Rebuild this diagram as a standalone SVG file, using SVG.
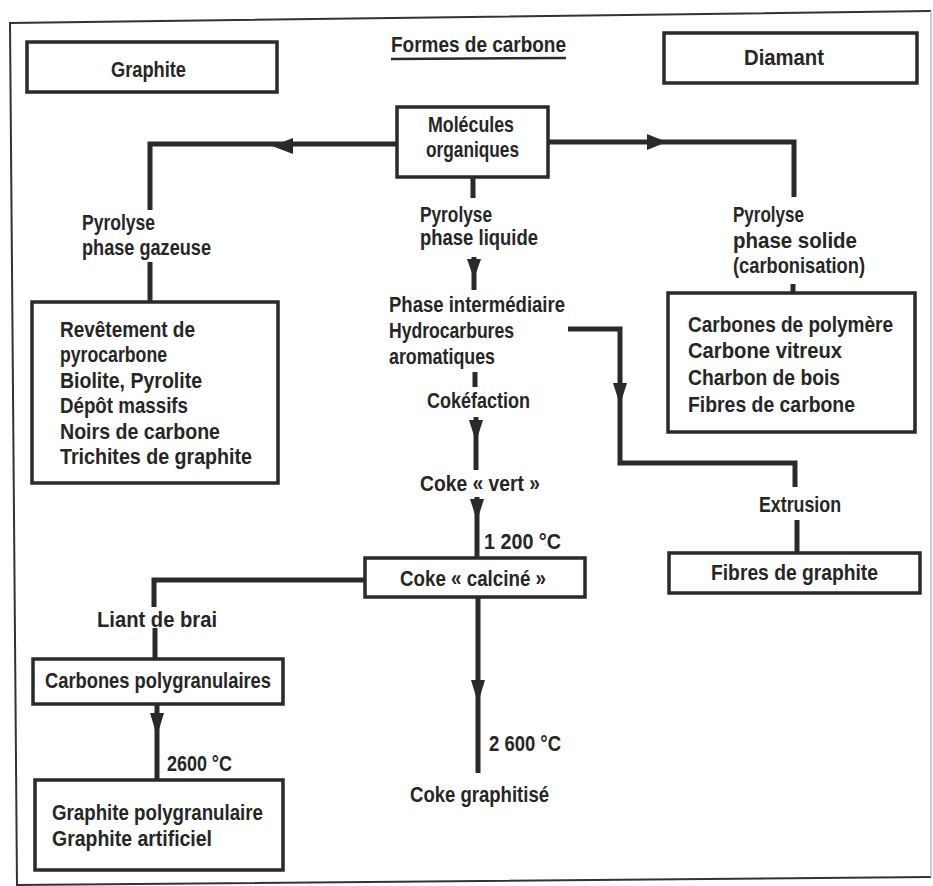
<svg xmlns="http://www.w3.org/2000/svg" width="933" height="886" viewBox="0 0 933 886">
<style>
text{font-family:"Liberation Sans",Arial,sans-serif;font-weight:bold;font-size:22px;fill:#262626}
.box{fill:#fff;stroke:#2a2a2a;stroke-width:3.5}
.ln{fill:none;stroke:#2a2a2a;stroke-width:5;stroke-linejoin:miter}
.ah{fill:#2a2a2a}
.frame{fill:none;stroke:#333;stroke-width:2}
</style>
<rect width="933" height="886" fill="#fff"/>
<g id="frame">
<polyline class="frame" points="931,11 10,23 17,885 931,877"/>
<line x1="931" y1="11" x2="931" y2="877" stroke="#bbb" stroke-width="1.5"/>
</g>

<g id="title">
<text x="391" y="52" textLength="175" lengthAdjust="spacingAndGlyphs">Formes de carbone</text>
<line x1="391" y1="59" x2="566" y2="58" stroke="#2a2a2a" stroke-width="2.5"/>
</g>

<g id="connectors">
<path class="ln" d="M397,144 H150 V210"/>
<path class="ln" d="M150,262 V302"/>
<polygon class="ah" points="272,146 293,138 293,154"/>
<path class="ln" d="M548,142 H794 V197"/>
<path class="ln" d="M793,284 V294"/>
<polygon class="ah" points="667,142 647,134 647,150"/>
<path class="ln" d="M473,177 V198"/>
<path class="ln" d="M474,257 V290"/>
<polygon class="ah" points="467,259 481,259 474,279"/>
<path class="ln" d="M475,372 V387"/>
<path class="ln" d="M476,417 V470"/>
<polygon class="ah" points="469,420 483,420 476,442"/>
<path class="ln" d="M568,329 H620 V463 H795 V487"/>
<polygon class="ah" points="613,383 627,383 620,405"/>
<path class="ln" d="M797,520 V553"/>
<path class="ln" d="M477,497 V558"/>
<polygon class="ah" points="470,499 484,499 477,521"/>
<path class="ln" d="M478,597 V773"/>
<polygon class="ah" points="471,680 485,680 478,703"/>
<path class="ln" d="M365,580 H154 V607"/>
<path class="ln" d="M155,628 V659"/>
<path class="ln" d="M157,704 V780"/>
<polygon class="ah" points="150,713 164,713 157,736"/>
</g>

<g id="graphite">
<rect class="box" x="27" y="42" width="250" height="50"/>
<text x="111" y="77" textLength="75" lengthAdjust="spacingAndGlyphs">Graphite</text>
</g>

<g id="diamant">
<rect class="box" x="664" y="33" width="253" height="50"/>
<text x="744" y="65" textLength="80" lengthAdjust="spacingAndGlyphs">Diamant</text>
</g>

<g id="molecules">
<rect class="box" x="397" y="107" width="151" height="70"/>
<text x="428" y="132" textLength="86" lengthAdjust="spacingAndGlyphs">Molécules</text>
<text x="426" y="157" textLength="93" lengthAdjust="spacingAndGlyphs">organiques</text>
</g>

<g id="label-gazeuse">
<text x="82" y="230" textLength="73" lengthAdjust="spacingAndGlyphs">Pyrolyse</text>
<text x="82" y="255" textLength="129" lengthAdjust="spacingAndGlyphs">phase gazeuse</text>
</g>

<g id="pyrocarbone">
<rect class="box" x="32" y="302" width="246" height="181"/>
<text x="60" y="337" textLength="135" lengthAdjust="spacingAndGlyphs">Revêtement de</text>
<text x="60" y="362" textLength="107" lengthAdjust="spacingAndGlyphs">pyrocarbone</text>
<text x="60" y="388" textLength="142" lengthAdjust="spacingAndGlyphs">Biolite, Pyrolite</text>
<text x="60" y="413" textLength="128" lengthAdjust="spacingAndGlyphs">Dépôt massifs</text>
<text x="60" y="439" textLength="160" lengthAdjust="spacingAndGlyphs">Noirs de carbone</text>
<text x="60" y="464" textLength="192" lengthAdjust="spacingAndGlyphs">Trichites de graphite</text>
</g>

<g id="label-liquide">
<text x="420" y="222" textLength="72" lengthAdjust="spacingAndGlyphs">Pyrolyse</text>
<text x="420" y="245" textLength="118" lengthAdjust="spacingAndGlyphs">phase liquide</text>
</g>

<g id="intermediaire">
<text x="389" y="312" textLength="176" lengthAdjust="spacingAndGlyphs">Phase intermédiaire</text>
<text x="389" y="338" textLength="125" lengthAdjust="spacingAndGlyphs">Hydrocarbures</text>
<text x="389" y="364" textLength="106" lengthAdjust="spacingAndGlyphs">aromatiques</text>
</g>

<g id="label-cokefaction">
<text x="427" y="408" textLength="103" lengthAdjust="spacingAndGlyphs">Cokéfaction</text>
</g>

<g id="coke-vert">
<text x="420" y="491" textLength="120" lengthAdjust="spacingAndGlyphs">Coke « vert »</text>
</g>

<g id="label-solide">
<text x="733" y="222" textLength="71" lengthAdjust="spacingAndGlyphs">Pyrolyse</text>
<text x="733" y="248" textLength="124" lengthAdjust="spacingAndGlyphs">phase solide</text>
<text x="733" y="273" textLength="132" lengthAdjust="spacingAndGlyphs">(carbonisation)</text>
</g>

<g id="polymere">
<rect class="box" x="668" y="293" width="247" height="139"/>
<text x="688" y="332" textLength="205" lengthAdjust="spacingAndGlyphs">Carbones de polymère</text>
<text x="688" y="358" textLength="154" lengthAdjust="spacingAndGlyphs">Carbone vitreux</text>
<text x="688" y="385" textLength="152" lengthAdjust="spacingAndGlyphs">Charbon de bois</text>
<text x="688" y="412" textLength="167" lengthAdjust="spacingAndGlyphs">Fibres de carbone</text>
</g>

<g id="label-extrusion">
<text x="759" y="512" textLength="82" lengthAdjust="spacingAndGlyphs">Extrusion</text>
</g>

<g id="fibres-graphite">
<rect class="box" x="669" y="553" width="251" height="40"/>
<text x="711" y="580" textLength="167" lengthAdjust="spacingAndGlyphs">Fibres de graphite</text>
</g>

<g id="label-1200">
<text x="484" y="549" textLength="77" lengthAdjust="spacingAndGlyphs">1 200 °C</text>
</g>

<g id="coke-calcine">
<rect class="box" x="365" y="558" width="220" height="39"/>
<text x="400" y="586" textLength="146" lengthAdjust="spacingAndGlyphs">Coke « calciné »</text>
</g>

<g id="label-2600b">
<text x="489" y="751" textLength="72" lengthAdjust="spacingAndGlyphs">2 600 °C</text>
</g>

<g id="coke-graphitise">
<text x="410" y="802" textLength="139" lengthAdjust="spacingAndGlyphs">Coke graphitisé</text>
</g>

<g id="label-liant">
<text x="97" y="627" textLength="120" lengthAdjust="spacingAndGlyphs">Liant de brai</text>
</g>

<g id="carbones-poly">
<rect class="box" x="33" y="659" width="250" height="45"/>
<text x="45" y="688" textLength="226" lengthAdjust="spacingAndGlyphs">Carbones polygranulaires</text>
</g>

<g id="label-2600a">
<text x="167" y="771" textLength="65" lengthAdjust="spacingAndGlyphs">2600 °C</text>
</g>

<g id="graphite-poly">
<rect class="box" x="35" y="780" width="248" height="90"/>
<text x="52" y="820" textLength="211" lengthAdjust="spacingAndGlyphs">Graphite polygranulaire</text>
<text x="52" y="846" textLength="160" lengthAdjust="spacingAndGlyphs">Graphite artificiel</text>
</g>
</svg>
